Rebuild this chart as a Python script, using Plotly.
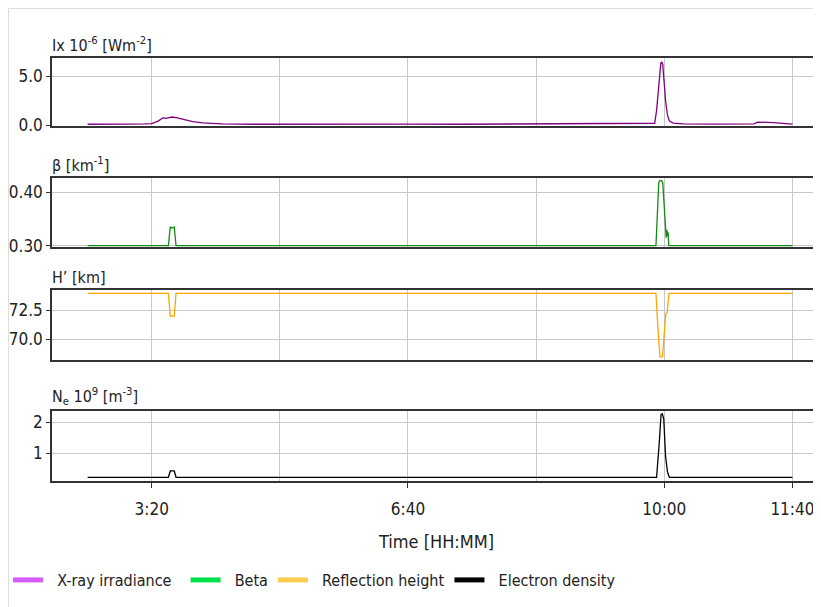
import plotly.graph_objects as go

# ---------------- data (minutes since 00:00) ----------------
xray_t = [150, 165, 180, 195, 200, 205, 209, 211, 213, 216, 220, 225, 232, 240, 255, 280, 320, 360, 400, 440,
          480, 520, 560, 585, 592.5, 594, 596, 597.3, 598, 598.8, 599.5, 601, 602.5, 604, 607, 615, 640, 660,
          670, 673, 685, 700]
xray_v = [0.08, 0.12, 0.1, 0.12, 0.15, 0.4, 0.75, 0.68, 0.72, 0.82, 0.72, 0.55, 0.35, 0.22, 0.12, 0.08, 0.1, 0.13, 0.1, 0.08,
          0.09, 0.1, 0.1, 0.13, 0.18, 1.5, 5.0, 6.3, 6.45, 6.2, 5.0, 2.5, 1.0, 0.4, 0.2, 0.12, 0.1, 0.1,
          0.12, 0.3, 0.25, 0.1]

beta_t = [150, 213, 214.5, 216, 217.6, 219, 593.5, 595.7, 596.5, 598, 598.8, 600.5, 601.5, 602, 602.5, 603, 603.5, 700]
beta_v = [0.30, 0.30, 0.335, 0.333, 0.335, 0.30, 0.30, 0.418, 0.422, 0.422, 0.418, 0.36, 0.315, 0.33, 0.318, 0.325, 0.30, 0.30]

height_t = [150, 213, 214.5, 217.6, 219, 593.5, 595, 596.6, 598.6, 600, 601.2, 602.2, 603.7, 700]
height_v = [74.0, 74.0, 72.0, 72.0, 74.0, 74.0, 71.0, 68.45, 68.45, 70.5, 72.24, 72.3, 74.0, 74.0]

ne_t = [150, 213, 214.5, 217.6, 219, 594, 596, 597.5, 598.5, 599.6, 601, 601.9, 602.5, 603.3, 604, 700]
ne_v = [0.226, 0.226, 0.43, 0.43, 0.226, 0.226, 1.3, 2.25, 2.27, 2.1, 0.9, 0.42, 0.4, 0.3, 0.226, 0.226]

tick_vals = [200, 400, 600, 700]
tick_text = ["3:20", "6:40", "10:00", "11:40"]
minor_vals = [300, 500]

legend_names = ["X-ray irradiance", "Beta", "Reflection height", "Electron density"]
legend_colors = ["#d75cff", "#00e04c", "#ffcc4d", "#000000"]
line_colors = ["#800080", "#118c11", "#ffa500", "#000000"]

titles = ["Ix 10<sup>-6</sup> [Wm<sup>-2</sup>]", "β [km<sup>-1</sup>]", "H’ [km]",
          "N<sub>e</sub> 10<sup>9</sup> [m<sup>-3</sup>]"]

# ---------------- layout geometry (figure sits 8px inside the page) ----------------
W, H = 813, 599
FONT = "DejaVu Sans Condensed, DejaVu Sans, sans-serif"
panels_px = [(50, 118), (170, 239), (281.5, 352), (402.7, 472.7)]
yranges = [[-0.1, 6.84], [0.2976, 0.4268], [68.17, 74.33], [0.116, 2.37]]
yticks = [([0, 5], ["0.0", "5.0"]), ([0.30, 0.40], ["0.30", "0.40"]),
          ([70.0, 72.5], ["70.0", "72.5"]), ([1, 2], ["1", "2"])]
xrange_ = [122.2, 722.3]
x_left = 44 / W

fig = go.Figure()
series = [(xray_t, xray_v), (beta_t, beta_v), (height_t, height_v), (ne_t, ne_v)]
for i, (t, v) in enumerate(series):
    ax = "" if i == 0 else str(i + 1)
    fig.add_trace(go.Scatter(x=t, y=v, mode="lines", line=dict(color=line_colors[i], width=1.3),
                             xaxis="x" + ax, yaxis="y" + ax, showlegend=False, hoverinfo="skip"))

for i in range(4):
    label = "\u00a0\u00a0" + legend_names[i] + ("\u00a0\u00a0" if i == 0 else "")
    fig.add_trace(go.Scatter(x=[None], y=[None], mode="lines", name=label,
                             line=dict(color=legend_colors[i], width=5), xaxis="x4", yaxis="y4"))

layout = dict(width=W, height=H, margin=dict(l=0, r=0, t=0, b=0, autoexpand=False),
              paper_bgcolor="white", plot_bgcolor="white",
              font=dict(family=FONT, size=17, color="#222"),
              showlegend=True,
              legend=dict(orientation="h", x=0.0, y=1 - 572 / H, yanchor="middle", xanchor="left",
                          font=dict(size=16, family=FONT), itemwidth=30, tracegroupgap=0,
                          bgcolor="rgba(0,0,0,0)"))

for i in range(4):
    top, bot = panels_px[i]
    ax = "" if i == 0 else str(i + 1)
    last = i == 3
    xa = dict(domain=[x_left, 1.0], range=xrange_, showgrid=True, gridcolor="#c8c8c8", gridwidth=1,
              tickvals=tick_vals, ticktext=tick_text if last else [""] * 4,
              ticks="outside" if last else "", ticklen=6, tickcolor="#333",
              showticklabels=last, showline=True, linecolor="#333", linewidth=1.5, mirror=True,
              zeroline=False, tickfont=dict(size=17, family=FONT), automargin=False,
              minor=dict(tickvals=minor_vals, showgrid=True, gridcolor="#c8c8c8", gridwidth=1, ticks=""),
              anchor="y" + ax)
    if last:
        xa["title"] = dict(text="Time [HH:MM]", font=dict(size=18, family=FONT), standoff=18)
        xa["ticklabelstandoff"] = 6
    ya = dict(domain=[1 - bot / H, 1 - top / H], range=yranges[i], tickvals=yticks[i][0],
              ticktext=yticks[i][1], ticks="outside", ticklen=4, tickcolor="#333",
              showgrid=True, gridcolor="#c8c8c8", gridwidth=1, zeroline=False,
              showline=True, linecolor="#333", linewidth=1.5, mirror=True, automargin=False,
              tickfont=dict(size=17, family=FONT), anchor="x" + ax)
    layout["xaxis" + ax] = xa
    layout["yaxis" + ax] = ya

fig.update_layout(**layout)

for i in range(4):
    top, _ = panels_px[i]
    fig.add_annotation(text=titles[i], xref="paper", yref="paper", x=x_left - 2 / W, y=1 - (top - 1) / H,
                       xanchor="left", yanchor="bottom", showarrow=False,
                       font=dict(size=16, family=FONT, color="#222"))

# outer frame (left and top light edges)
fig.add_shape(type="path", xref="paper", yref="paper",
              path=f"M {0.5/W} 0 L {0.5/W} {1-0.5/H} L 1 {1-0.5/H}",
              line=dict(color="#dddddd", width=1))

fig.write_html("out.html")
